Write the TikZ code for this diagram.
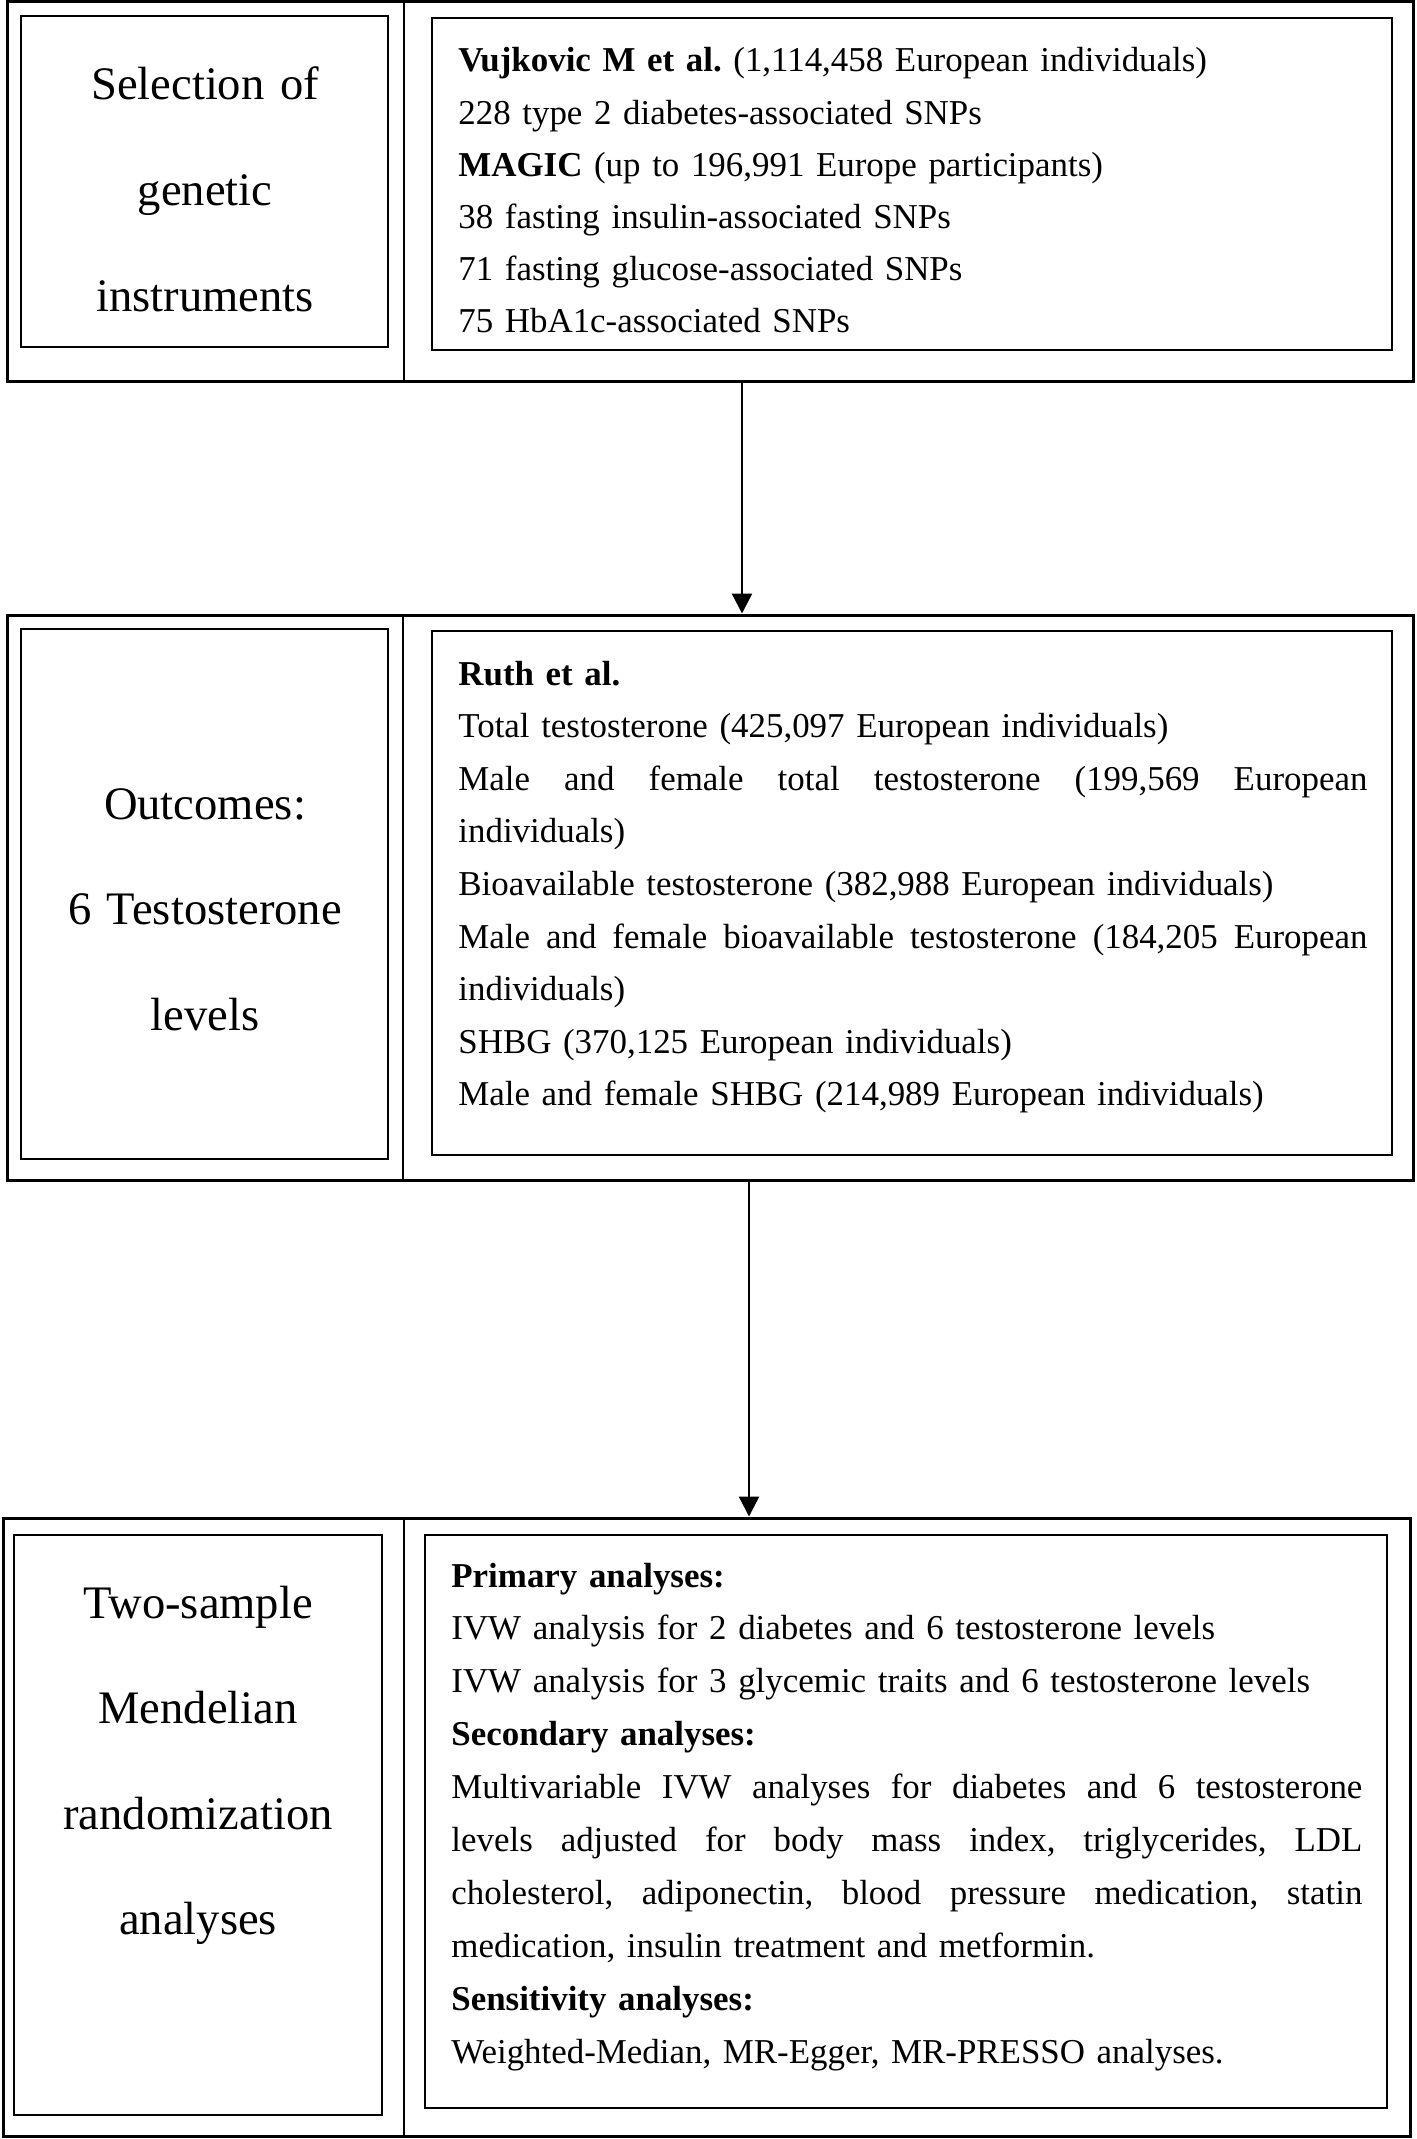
\documentclass[tikz,border=0pt]{standalone}
\usepackage{fontspec}
\setmainfont{Liberation Serif}
\usetikzlibrary{fit,arrows.meta}
\newcommand\jline[2]{\leavevmode\hbox to #1{\spaceskip=0.25em plus 1fil\relax\xspaceskip=0.25em plus 1fil\relax #2}}
\begin{document}
\begin{tikzpicture}[x=0.5pt,y=-0.5pt,
  outerbox/.style={draw,line width=1.5pt,inner sep=0pt},
  innerbox/.style={draw,line width=0.9pt,inner sep=0pt},
  divider/.style={line width=1.2pt},
  lefttext/.style={inner sep=0pt,text width=170pt,align=center,anchor=base,
    font=\fontsize{23.3pt}{52.8pt}\selectfont\frenchspacing},
  righttext/.style={inner sep=0pt,text width=456pt,align=left,anchor=base west,
    font=\fontsize{17.45pt}{26.3pt}\selectfont\frenchspacing},
  arr/.style={line width=1.2pt,-{Triangle[length=10pt,width=10pt]}}]
\useasboundingbox (0,0) rectangle (1417,2139);

% ---------- block 1 ----------
\node[outerbox,fit={(7,2) (1413,382)}] (b1) {};
\draw[divider] (b1.north -| 404,0) -- (b1.south -| 404,0);
\node[innerbox,fit={(21,16) (388,347)}] (l1) {};
\node[innerbox,fit={(432,18) (1392,350)}] (r1) {};
\node[lefttext] (lt1) at (205,100) {Selection of\\genetic\\instruments};
\node[righttext,font=\fontsize{17.45pt}{26.1pt}\selectfont\frenchspacing] (rt1) at (458,72) {%
\textbf{Vujkovic M et al.} (1,114,458 European individuals)\\
228 type 2 diabetes-associated SNPs\\
\textbf{MAGIC} (up to 196,991 Europe participants)\\
38 fasting insulin-associated SNPs\\
71 fasting glucose-associated SNPs\\
75 HbA1c-associated SNPs};

% ---------- block 2 ----------
\node[outerbox,fit={(7,615) (1413,1180)}] (b2) {};
\draw[divider] (b2.north -| 403,0) -- (b2.south -| 403,0);
\node[innerbox,fit={(21,629) (388,1159)}] (l2) {};
\node[innerbox,fit={(432,631) (1392,1155)}] (r2) {};
\node[lefttext] (lt2) at (205,819) {Outcomes:\\6 Testosterone\\levels};
\node[righttext] (rt2) at (458,685) {%
\textbf{Ruth et al.}\\
Total testosterone (425,097 European individuals)\\
\jline{454.5pt}{Male and female total testosterone (199,569 European}\\
individuals)\\
Bioavailable testosterone (382,988 European individuals)\\
\jline{454.5pt}{Male and female bioavailable testosterone (184,205 European}\\
individuals)\\
SHBG (370,125 European individuals)\\
Male and female SHBG (214,989 European individuals)};

% ---------- block 3 ----------
\node[outerbox,fit={(3,1518) (1410,2136)}] (b3) {};
\draw[divider] (b3.north -| 404,0) -- (b3.south -| 404,0);
\node[innerbox,fit={(14,1535) (382,2115)}] (l3) {};
\node[innerbox,fit={(425,1535) (1387,2108)}] (r3) {};
\node[lefttext] (lt3) at (198,1618) {Two-sample\\Mendelian\\randomization\\analyses};
\node[righttext,font=\fontsize{17.45pt}{26.45pt}\selectfont\frenchspacing] (rt3) at (451,1587) {%
\textbf{Primary analyses:}\\
IVW analysis for 2 diabetes and 6 testosterone levels\\
IVW analysis for 3 glycemic traits and 6 testosterone levels\\
\textbf{Secondary analyses:}\\
\jline{455.5pt}{Multivariable IVW analyses for diabetes and 6 testosterone}\\
\jline{455.5pt}{levels adjusted for body mass index, triglycerides, LDL}\\
\jline{455.5pt}{cholesterol, adiponectin, blood pressure medication, statin}\\
medication, insulin treatment and metformin.\\
\textbf{Sensitivity analyses:}\\
Weighted-Median, MR-Egger, MR-PRESSO analyses.};

% ---------- arrows ----------
\draw[arr] (b1.south -| 742,0) -- (b2.north -| 742,0);
\draw[arr] (b2.south -| 749,0) -- (b3.north -| 749,0);
\end{tikzpicture}
\end{document}
